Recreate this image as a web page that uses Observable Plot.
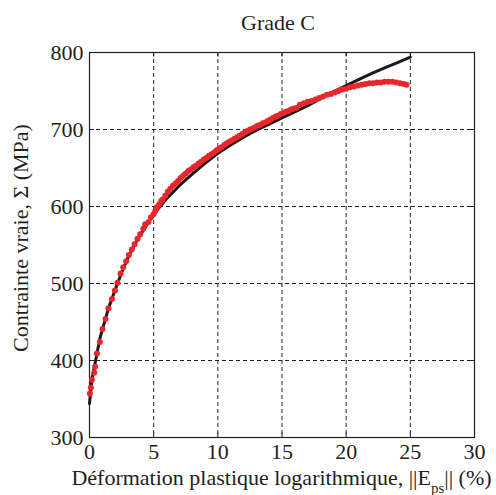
<!DOCTYPE html>
<html>
<head>
<meta charset="utf-8">
<script src="https://cdn.jsdelivr.net/npm/d3@7"></script>
<script src="https://cdn.jsdelivr.net/npm/@observablehq/plot@0.6"></script>
<style>
  html, body { margin: 0; padding: 0; background: white; }
  #chart { width: 496px; height: 495px; }
  #chart svg, #chart svg text { font-family: "Liberation Serif", "DejaVu Serif", serif !important; }
</style>
</head>
<body>
<div id="chart"></div>
<script>
const xTicks = [0, 5, 10, 15, 20, 25, 30];
const yTicks = [300, 400, 500, 600, 700, 800];

// Model (black curve)
const modelStrain = [0, 0.2, 0.5, 0.8, 1, 1.5, 2, 2.5, 3, 3.5, 4, 4.5, 5, 5.5, 6, 7, 8, 9, 10, 11, 12, 13, 14, 15, 16, 17, 18, 19, 20, 21, 22, 23, 24, 25];
const modelStress = [344, 377, 402, 428, 440, 469, 492, 514, 534, 550, 564, 577, 590, 600, 610, 627, 642, 656, 669, 680, 690, 699, 707, 715, 723, 731, 740, 749, 757, 765, 773, 780, 787, 794];

// Experimental (red dots)
const expStrain = [0.03, 0.11, 0.19, 0.37, 0.44, 0.58, 0.81, 1.01, 1.25, 1.48, 1.75, 1.98, 2.18, 2.42, 2.63, 2.86, 3.07, 3.30, 3.51, 3.74, 3.95, 4.19, 4.34, 4.60, 4.79, 4.99, 5.12, 5.25, 5.43, 5.59,
  5.7, 5.9, 6.1, 6.3, 6.5, 6.7, 6.9, 7.1, 7.3, 7.5, 7.7, 7.9, 8.1, 8.3, 8.5, 8.7, 8.9, 9.1, 9.3, 9.5, 9.7, 9.9, 10.1, 10.3, 10.5, 10.7, 10.9, 11.1, 11.3, 11.5, 11.7, 11.9, 12.1, 12.3, 12.5, 12.7, 12.9, 13.1, 13.3, 13.5, 13.7, 13.9, 14.1, 14.3, 14.5, 14.7, 14.9, 15.1, 15.3, 15.5, 15.7, 15.9, 16.1,
  16.4, 16.7, 17.0, 17.3, 17.6, 17.9, 18.2, 18.5, 18.8, 19.1, 19.4, 19.7, 20.0, 20.3, 20.6, 20.9, 21.2, 21.5, 21.8, 22.1, 22.4, 22.7, 23.0, 23.3, 23.6, 23.9, 24.2, 24.5, 24.7];
const expStress = [357, 365, 375, 384, 392, 409, 424, 441, 454, 468, 480, 491, 501, 513, 521, 529, 537, 544, 551, 558, 564, 571, 577, 580, 586, 590, 594, 599, 603, 607,
  609, 614, 619, 623, 627, 630, 633, 637, 640, 643, 646, 648, 651, 653, 656, 658, 661, 663, 666, 668, 670, 673, 675, 677, 680, 682, 684, 686, 688, 690, 692, 694, 696, 698, 700, 701, 703, 705, 706, 708, 709, 711, 713, 715, 717, 718, 720, 721, 723, 724, 726, 727, 728,
  732, 734, 736, 737, 739, 741, 743, 745, 746, 748, 750, 752, 753, 755, 756, 757, 758, 759, 760, 760, 761, 761, 762, 762, 762, 761, 760, 759, 758];

const model = modelStrain.map((x, i) => ({x, y: modelStress[i]}));
const exp = expStrain.map((x, i) => ({x, y: expStress[i]}));

const ink = "#231f20";
const font = "'Liberation Serif', 'DejaVu Serif', serif";

const chart = Plot.plot({
  width: 496,
  height: 495,
  marginTop: 52,
  marginRight: 22,
  marginBottom: 58,
  marginLeft: 89,
  style: {fontFamily: font, fontSize: "22px", color: ink, background: "white", overflow: "visible"},
  x: {domain: [0, 30]},
  y: {domain: [300, 800]},
  marks: [
    Plot.gridX(xTicks, {stroke: ink, strokeOpacity: 1, strokeWidth: 1, strokeDasharray: "4,3"}),
    Plot.gridY(yTicks, {stroke: ink, strokeOpacity: 1, strokeWidth: 1, strokeDasharray: "4,3"}),
    Plot.ruleX(xTicks, {y1: 300, y2: 306, stroke: ink, strokeWidth: 1}),
    Plot.ruleX(xTicks, {y1: 794, y2: 800, stroke: ink, strokeWidth: 1}),
    Plot.ruleY(yTicks, {x1: 0, x2: 0.4, stroke: ink, strokeWidth: 1}),
    Plot.ruleY(yTicks, {x1: 29.6, x2: 30, stroke: ink, strokeWidth: 1}),
    Plot.frame({stroke: ink, strokeWidth: 1.2}),
    Plot.axisX(xTicks, {tickSize: 0, tickPadding: 6, label: null, fontSize: 22, fill: ink}),
    Plot.axisY(yTicks, {tickSize: 0, tickPadding: 6, label: null, fontSize: 22, fill: ink}),
    Plot.line(model, {x: "x", y: "y", stroke: "#1a1a1a", strokeWidth: 3}),
    Plot.dot(exp, {x: "x", y: "y", r: 3, fill: "#e8262b", stroke: "none"})
  ]
});

document.getElementById("chart").appendChild(chart);

const svg = d3.select(chart);
svg.append("text")
  .attr("x", 278).attr("y", 30)
  .attr("text-anchor", "middle")
  .style("font-family", font).attr("font-size", 22).attr("fill", ink)
  .text("Grade C");

svg.append("text")
  .attr("transform", "translate(28,238) rotate(-90)")
  .attr("text-anchor", "middle")
  .style("font-family", font).attr("font-size", 22).attr("fill", ink)
  .text("Contrainte vraie, Σ (MPa)");

const xl = svg.append("text")
  .attr("x", 281.5).attr("y", 485)
  .attr("text-anchor", "middle")
  .style("font-family", font).attr("font-size", 22).attr("fill", ink);
xl.append("tspan").text("Déformation plastique logarithmique, ||E");
xl.append("tspan").attr("font-size", 15).attr("dy", 8).text("ps");
xl.append("tspan").attr("dy", -8).text("|| (%)");
</script>
</body>
</html>
